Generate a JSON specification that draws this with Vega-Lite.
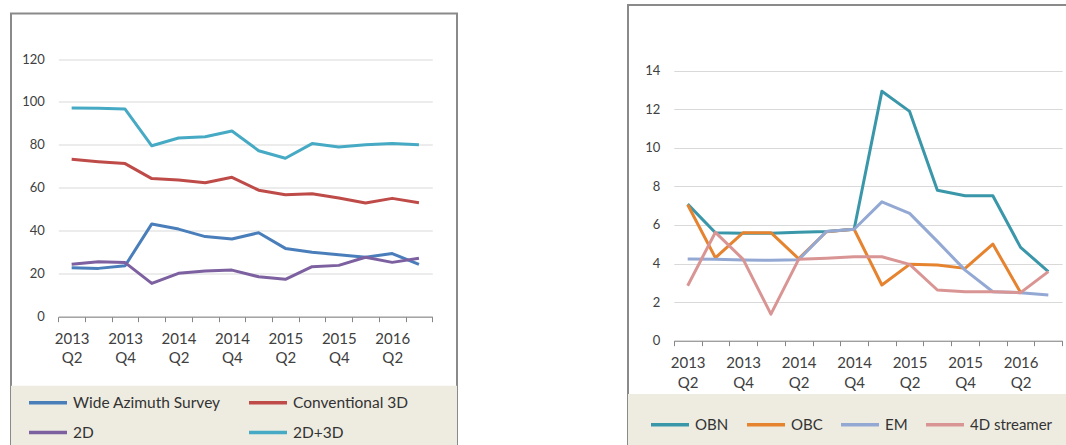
{
  "$schema": "https://vega.github.io/schema/vega-lite/v6.json",
  "background": "white",
  "padding": {"left": 10, "top": 4, "right": 0, "bottom": 0},
  "spacing": 171,
  "center": true,
  "bounds": "flush",
  "config": {"font": "Lato", "view": {"stroke": "#8A8A8A", "strokeWidth": 2}},
  "resolve": {"scale": {"x": "independent", "y": "independent", "color": "independent"}, "legend": {"color": "independent"}},
  "datasets": {
    "left": [
      {"q": "2013 Q2", "s": "Wide Azimuth Survey", "v": 22.8},
      {"q": "2013 Q3", "s": "Wide Azimuth Survey", "v": 22.5},
      {"q": "2013 Q4", "s": "Wide Azimuth Survey", "v": 23.7},
      {"q": "2014 Q1", "s": "Wide Azimuth Survey", "v": 43.2},
      {"q": "2014 Q2", "s": "Wide Azimuth Survey", "v": 40.8},
      {"q": "2014 Q3", "s": "Wide Azimuth Survey", "v": 37.3},
      {"q": "2014 Q4", "s": "Wide Azimuth Survey", "v": 36.2},
      {"q": "2015 Q1", "s": "Wide Azimuth Survey", "v": 39.1},
      {"q": "2015 Q2", "s": "Wide Azimuth Survey", "v": 31.8},
      {"q": "2015 Q3", "s": "Wide Azimuth Survey", "v": 30.0},
      {"q": "2015 Q4", "s": "Wide Azimuth Survey", "v": 28.9},
      {"q": "2016 Q1", "s": "Wide Azimuth Survey", "v": 27.7},
      {"q": "2016 Q2", "s": "Wide Azimuth Survey", "v": 29.4},
      {"q": "2016 Q3", "s": "Wide Azimuth Survey", "v": 24.4},
      {"q": "2013 Q2", "s": "Conventional 3D", "v": 73.3},
      {"q": "2013 Q3", "s": "Conventional 3D", "v": 72.2},
      {"q": "2013 Q4", "s": "Conventional 3D", "v": 71.3},
      {"q": "2014 Q1", "s": "Conventional 3D", "v": 64.3},
      {"q": "2014 Q2", "s": "Conventional 3D", "v": 63.7},
      {"q": "2014 Q3", "s": "Conventional 3D", "v": 62.4},
      {"q": "2014 Q4", "s": "Conventional 3D", "v": 64.9},
      {"q": "2015 Q1", "s": "Conventional 3D", "v": 58.9},
      {"q": "2015 Q2", "s": "Conventional 3D", "v": 56.8},
      {"q": "2015 Q3", "s": "Conventional 3D", "v": 57.3},
      {"q": "2015 Q4", "s": "Conventional 3D", "v": 55.3},
      {"q": "2016 Q1", "s": "Conventional 3D", "v": 52.9},
      {"q": "2016 Q2", "s": "Conventional 3D", "v": 55.1},
      {"q": "2016 Q3", "s": "Conventional 3D", "v": 53.1},
      {"q": "2013 Q2", "s": "2D", "v": 24.4},
      {"q": "2013 Q3", "s": "2D", "v": 25.6},
      {"q": "2013 Q4", "s": "2D", "v": 25.2},
      {"q": "2014 Q1", "s": "2D", "v": 15.5},
      {"q": "2014 Q2", "s": "2D", "v": 20.2},
      {"q": "2014 Q3", "s": "2D", "v": 21.3},
      {"q": "2014 Q4", "s": "2D", "v": 21.7},
      {"q": "2015 Q1", "s": "2D", "v": 18.6},
      {"q": "2015 Q2", "s": "2D", "v": 17.4},
      {"q": "2015 Q3", "s": "2D", "v": 23.3},
      {"q": "2015 Q4", "s": "2D", "v": 23.9},
      {"q": "2016 Q1", "s": "2D", "v": 27.7},
      {"q": "2016 Q2", "s": "2D", "v": 25.3},
      {"q": "2016 Q3", "s": "2D", "v": 27.2},
      {"q": "2013 Q2", "s": "2D+3D", "v": 97.2},
      {"q": "2013 Q3", "s": "2D+3D", "v": 97.1},
      {"q": "2013 Q4", "s": "2D+3D", "v": 96.7},
      {"q": "2014 Q1", "s": "2D+3D", "v": 79.6},
      {"q": "2014 Q2", "s": "2D+3D", "v": 83.2},
      {"q": "2014 Q3", "s": "2D+3D", "v": 83.8},
      {"q": "2014 Q4", "s": "2D+3D", "v": 86.5},
      {"q": "2015 Q1", "s": "2D+3D", "v": 77.3},
      {"q": "2015 Q2", "s": "2D+3D", "v": 73.8},
      {"q": "2015 Q3", "s": "2D+3D", "v": 80.6},
      {"q": "2015 Q4", "s": "2D+3D", "v": 79.0},
      {"q": "2016 Q1", "s": "2D+3D", "v": 80.1},
      {"q": "2016 Q2", "s": "2D+3D", "v": 80.6},
      {"q": "2016 Q3", "s": "2D+3D", "v": 80.1}
    ],
    "right": [
      {"q": "2013 Q2", "s": "OBN", "v": 7.08},
      {"q": "2013 Q3", "s": "OBN", "v": 5.6},
      {"q": "2013 Q4", "s": "OBN", "v": 5.57},
      {"q": "2014 Q1", "s": "OBN", "v": 5.57},
      {"q": "2014 Q2", "s": "OBN", "v": 5.62},
      {"q": "2014 Q3", "s": "OBN", "v": 5.66},
      {"q": "2014 Q4", "s": "OBN", "v": 5.78},
      {"q": "2015 Q1", "s": "OBN", "v": 12.93},
      {"q": "2015 Q2", "s": "OBN", "v": 11.89},
      {"q": "2015 Q3", "s": "OBN", "v": 7.8},
      {"q": "2015 Q4", "s": "OBN", "v": 7.52},
      {"q": "2016 Q1", "s": "OBN", "v": 7.52},
      {"q": "2016 Q2", "s": "OBN", "v": 4.84},
      {"q": "2016 Q3", "s": "OBN", "v": 3.58},
      {"q": "2013 Q2", "s": "OBC", "v": 7.05},
      {"q": "2013 Q3", "s": "OBC", "v": 4.3},
      {"q": "2013 Q4", "s": "OBC", "v": 5.6},
      {"q": "2014 Q1", "s": "OBC", "v": 5.6},
      {"q": "2014 Q2", "s": "OBC", "v": 4.25},
      {"q": "2014 Q3", "s": "OBC", "v": 5.65},
      {"q": "2014 Q4", "s": "OBC", "v": 5.78},
      {"q": "2015 Q1", "s": "OBC", "v": 2.89},
      {"q": "2015 Q2", "s": "OBC", "v": 3.96},
      {"q": "2015 Q3", "s": "OBC", "v": 3.92},
      {"q": "2015 Q4", "s": "OBC", "v": 3.75},
      {"q": "2016 Q1", "s": "OBC", "v": 5.01},
      {"q": "2016 Q2", "s": "OBC", "v": 2.5},
      {"q": "2013 Q2", "s": "EM", "v": 4.24},
      {"q": "2013 Q3", "s": "EM", "v": 4.22},
      {"q": "2013 Q4", "s": "EM", "v": 4.18},
      {"q": "2014 Q1", "s": "EM", "v": 4.17},
      {"q": "2014 Q2", "s": "EM", "v": 4.2},
      {"q": "2014 Q3", "s": "EM", "v": 5.66},
      {"q": "2014 Q4", "s": "EM", "v": 5.78},
      {"q": "2015 Q1", "s": "EM", "v": 7.2},
      {"q": "2015 Q2", "s": "EM", "v": 6.6},
      {"q": "2015 Q3", "s": "EM", "v": 5.15},
      {"q": "2015 Q4", "s": "EM", "v": 3.66},
      {"q": "2016 Q1", "s": "EM", "v": 2.54},
      {"q": "2016 Q2", "s": "EM", "v": 2.49},
      {"q": "2016 Q3", "s": "EM", "v": 2.37},
      {"q": "2013 Q2", "s": "4D streamer", "v": 2.85},
      {"q": "2013 Q3", "s": "4D streamer", "v": 5.62},
      {"q": "2013 Q4", "s": "4D streamer", "v": 4.22},
      {"q": "2014 Q1", "s": "4D streamer", "v": 1.38},
      {"q": "2014 Q2", "s": "4D streamer", "v": 4.22},
      {"q": "2014 Q3", "s": "4D streamer", "v": 4.28},
      {"q": "2014 Q4", "s": "4D streamer", "v": 4.35},
      {"q": "2015 Q1", "s": "4D streamer", "v": 4.35},
      {"q": "2015 Q2", "s": "4D streamer", "v": 3.96},
      {"q": "2015 Q3", "s": "4D streamer", "v": 2.63},
      {"q": "2015 Q4", "s": "4D streamer", "v": 2.54},
      {"q": "2016 Q1", "s": "4D streamer", "v": 2.54},
      {"q": "2016 Q2", "s": "4D streamer", "v": 2.49},
      {"q": "2016 Q3", "s": "4D streamer", "v": 3.58}
    ]
  },
  "hconcat": [
    {
      "width": 446,
      "height": 443,
      "layer": [
        {
          "data": {"values": [{"band": "legend"}]},
          "mark": {"type": "rect", "color": "#EEECE1"},
          "encoding": {
            "y": {"datum": -32.1, "type": "quantitative", "scale": {"domain": [0, 120], "range": [303.2, 45.5], "nice": false, "zero": false}},
            "y2": {"datum": -80}
          }
        },
        {
          "data": {"name": "left"},
          "mark": {"type": "line", "strokeWidth": 3, "strokeJoin": "round"},
          "encoding": {
            "x": {
              "field": "q", "type": "ordinal", "sort": null, "bandPosition": 0.5,
              "scale": {"type": "band", "range": [47.3, 421.3], "paddingInner": 0, "paddingOuter": 0},
              "axis": {
                "title": null, "offset": -139.8, "grid": false,
                "domainColor": "#868686", "tickColor": "#868686", "tickBand": "extent", "tickSize": 5,
                "labelAngle": 0, "labelFont": "Lato", "labelFontSize": 15, "labelColor": "#404040",
                "labelPadding": 10, "labelLineHeight": 19, "labelOverlap": false, "labelBound": false,
                "labelExpr": "test(/Q[24]/, datum.value) ? split(datum.value, ' ') : ''"
              }
            },
            "y": {
              "field": "v", "type": "quantitative",
              "scale": {"domain": [0, 120], "range": [303.2, 45.5], "nice": false, "zero": false},
              "axis": {
                "title": null, "offset": -38.3, "domain": false, "ticks": false, "tickSize": 0,
                "grid": true, "gridColor": "#D9D9D9", "values": [0, 20, 40, 60, 80, 100, 120],
                "labelFont": "Lato", "labelFontSize": 13, "labelColor": "#404040", "labelPadding": 5
              }
            },
            "color": {
              "field": "s", "type": "nominal",
              "scale": {"domain": ["Wide Azimuth Survey", "Conventional 3D", "2D", "2D+3D"], "range": ["#4A7EBB", "#BE4B48", "#7D60A0", "#46AAC5"]},
              "legend": {
                "title": null, "orient": "none", "legendX": 16, "legendY": 368, "direction": "horizontal", "columns": 2,
                "symbolType": "stroke", "symbolSize": 1444, "symbolStrokeWidth": 3.5, "labelOffset": 4,
                "labelFont": "Lato", "labelFontSize": 15.5, "labelColor": "#333333", "labelLimit": 400,
                "columnPadding": 21, "rowPadding": -4, "padding": 0
              }
            }
          }
        }
      ]
    },
    {
      "width": 452,
      "height": 460,
      "layer": [
        {
          "data": {"values": [{"band": "legend"}]},
          "mark": {"type": "rect", "color": "#EEECE1"},
          "encoding": {
            "y": {"datum": -2.76, "type": "quantitative", "scale": {"domain": [0, 14], "range": [335.7, 65.7], "nice": false, "zero": false}},
            "y2": {"datum": -10}
          }
        },
        {
          "data": {"name": "right"},
          "mark": {"type": "line", "strokeWidth": 3, "strokeJoin": "round"},
          "encoding": {
            "x": {
              "field": "q", "type": "ordinal", "sort": null, "bandPosition": 0.5,
              "scale": {"type": "band", "range": [45.8, 434.2], "paddingInner": 0, "paddingOuter": 0},
              "axis": {
                "title": null, "offset": -124.3, "grid": false,
                "domainColor": "#868686", "tickColor": "#868686", "tickBand": "extent", "tickSize": 5,
                "labelAngle": 0, "labelFont": "Lato", "labelFontSize": 15, "labelColor": "#404040",
                "labelPadding": 10, "labelLineHeight": 20, "labelOverlap": false, "labelBound": false,
                "labelExpr": "test(/Q[24]/, datum.value) ? split(datum.value, ' ') : ''"
              }
            },
            "y": {
              "field": "v", "type": "quantitative",
              "scale": {"domain": [0, 14], "range": [335.7, 65.7], "nice": false, "zero": false},
              "axis": {
                "title": null, "offset": -36.8, "domain": false, "ticks": false, "tickSize": 0,
                "grid": true, "gridColor": "#D9D9D9", "values": [0, 2, 4, 6, 8, 10, 12, 14],
                "labelFont": "Lato", "labelFontSize": 13, "labelColor": "#404040", "labelPadding": 5
              }
            },
            "color": {
              "field": "s", "type": "nominal",
              "scale": {"domain": ["OBN", "OBC", "EM", "4D streamer"], "range": ["#3A97A9", "#E5832F", "#93A9D4", "#D99594"]},
              "legend": {
                "title": null, "orient": "none", "legendX": 21, "legendY": 398.7, "direction": "horizontal",
                "symbolType": "stroke", "symbolSize": 1444, "symbolStrokeWidth": 3.5, "labelOffset": 4,
                "labelFont": "Lato", "labelFontSize": 15, "labelColor": "#333333", "labelLimit": 400,
                "columnPadding": 11, "padding": 0
              }
            }
          }
        }
      ]
    }
  ]
}
